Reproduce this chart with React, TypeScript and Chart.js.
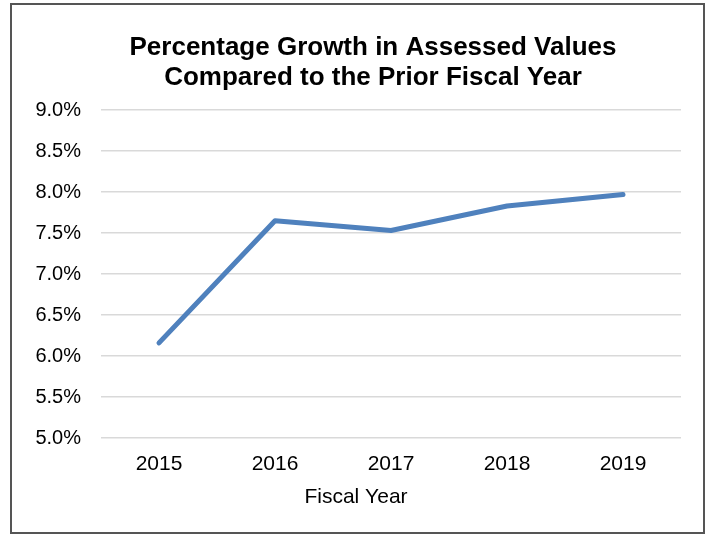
import React, { useEffect, useRef } from "react";
import { Chart, registerables } from "chart.js";

Chart.register(...registerables);

const categories: string[] = ["2015", "2016", "2017", "2018", "2019"];
const growthValues: number[] = [6.16, 7.65, 7.53, 7.83, 7.97];
const titleLines: string[] = ["Percentage Growth in Assessed Values", "Compared to the Prior Fiscal Year"];
const xAxisTitle = "Fiscal Year";
const yMin = 5.0;
const yMax = 9.0;
const yStep = 0.5;

const FONT = "'Liberation Sans', Arial, sans-serif";

const textPlugin = {
  id: "customTexts",
  afterDraw(chart: any) {
    const ctx = chart.ctx;
    ctx.save();
    ctx.fillStyle = "#000000";
    ctx.textAlign = "center";
    ctx.textBaseline = "middle";
    ctx.font = `bold 26px ${FONT}`;
    titleLines.forEach((line, i) => {
      ctx.fillText(line, 373, 48 + i * 30);
    });
    ctx.font = `21px ${FONT}`;
    ctx.fillText(xAxisTitle, 356, 497);
    ctx.restore();
  },
};

export default function App() {
  const canvasRef = useRef<HTMLCanvasElement | null>(null);

  useEffect(() => {
    document.body.style.margin = "0";
    const canvas = canvasRef.current;
    if (!canvas) return;
    const chart = new Chart(canvas, {
      type: "line",
      data: {
        labels: categories,
        datasets: [
          {
            data: growthValues,
            borderColor: "#4F81BD",
            backgroundColor: "#4F81BD",
            borderWidth: 5,
            borderCapStyle: "round",
            borderJoinStyle: "round",
            pointRadius: 0,
            pointHoverRadius: 0,
            tension: 0,
            fill: false,
          },
        ],
      },
      options: {
        animation: false,
        responsive: false,
        maintainAspectRatio: false,
        layout: { padding: { top: 110, left: 0, right: 28, bottom: 0 } },
        plugins: {
          legend: { display: false },
          title: { display: false },
          tooltip: { enabled: false },
        },
        scales: {
          x: {
            offset: true,
            grid: { display: false, drawTicks: false },
            border: { display: false },
            ticks: {
              color: "#000000",
              font: { family: FONT, size: 21 },
              padding: 14,
            },
            afterFit: (scale: any) => {
              scale.height = 96;
            },
          },
          y: {
            min: yMin,
            max: yMax,
            grid: { color: "#D9D9D9", lineWidth: 1.5, drawTicks: false },
            border: { display: false },
            ticks: {
              stepSize: yStep,
              color: "#000000",
              font: { family: FONT, size: 20 },
              padding: 20,
              callback: (v: any) => Number(v).toFixed(1) + "%",
            },
            afterFit: (scale: any) => {
              scale.width = 101;
            },
          },
        },
      },
      plugins: [textPlugin],
    });
    return () => chart.destroy();
  }, []);

  return (
    <div style={{ position: "relative", width: 709, height: 534, background: "#ffffff" }}>
      <canvas ref={canvasRef} width={709} height={534} style={{ display: "block" }} />
      <div
        style={{
          position: "absolute",
          left: 10,
          top: 3,
          width: 695,
          height: 531,
          boxSizing: "border-box",
          border: "2px solid #555555",
          pointerEvents: "none",
        }}
      />
    </div>
  );
}
